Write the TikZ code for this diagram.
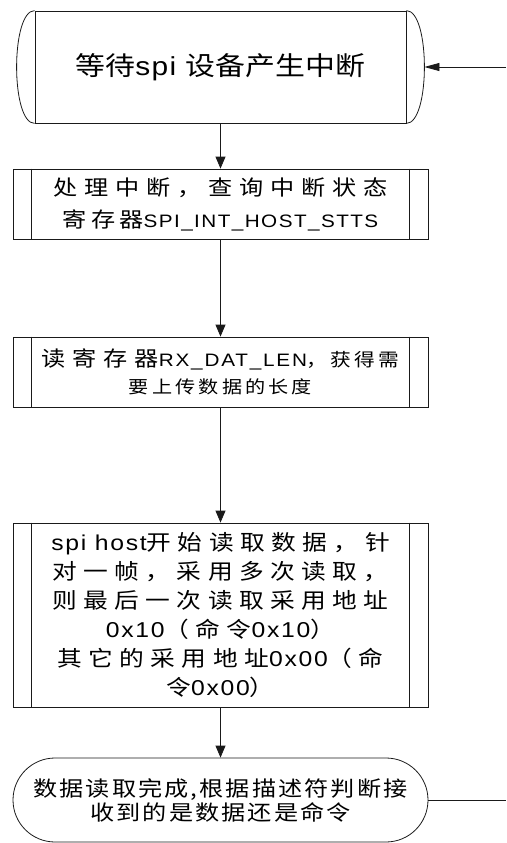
\documentclass[tikz,border=0pt]{standalone}
\usepackage{fontspec}
\setmainfont{Liberation Sans}
\usetikzlibrary{arrows.meta}
\newcommand\Cf[2]{{\fontspec[FakeStretch=1.15,LetterSpace=#1]{Noto Sans CJK SC}#2}}
\newcommand\Lf[2]{{\fontspec[FakeStretch=1.15,LetterSpace=#1]{Liberation Sans}#2}}
\definecolor{lc}{HTML}{1A1A1A}
\begin{document}
\begin{tikzpicture}[x=1pt,y=-1pt,
  ln/.style={draw=lc,line width=0.8pt},
  arr/.style={ln,-{Triangle[length=12pt,width=10pt]}},
  harr/.style={ln,-{Triangle[length=15pt,width=8pt]}},
  procbox/.style={ln,rectangle,minimum width=415pt,inner sep=0pt,align=center},
  termbox/.style={ln,rectangle,minimum width=371pt,minimum height=112pt,inner sep=0pt,align=center},
  ovalbox/.style={ln,rectangle,rounded corners=42pt,minimum width=415pt,minimum height=84pt,inner sep=0pt,align=center}
  ]
\useasboundingbox (0,0) rectangle (506,843);
% top terminator
\node[termbox,font=\fontsize{26pt}{30pt}\selectfont] (wait) at (220.5,67)
  {\Cf{0}{等待}\Lf{5}{spi }\Cf{0}{设备产生中断}};
\draw[ln] (wait.north west) .. controls ([xshift=-24pt]wait.north west) and ([xshift=-24pt]wait.south west) .. (wait.south west);
\draw[ln] (wait.north east) .. controls ([xshift=24pt]wait.north east) and ([xshift=24pt]wait.south east) .. (wait.south east);
\coordinate (waitR) at ([xshift=18pt]wait.east);
\coordinate (in1) at (506,67);
% process boxes
\node[procbox,minimum height=70pt,font=\fontsize{21pt}{32pt}\selectfont] (b2) at (220.5,204)
  {\Cf{33}{处理中断，查询中断状态}\\
   \Cf{20}{寄存器}{\fontsize{18pt}{32pt}\selectfont\Lf{8}{SPI\_INT\_HOST\_STTS}}};
\node[procbox,minimum height=70pt,font=\fontsize{21pt}{27pt}\selectfont] (b3) at (220.5,372)
  {\Cf{33}{读寄存器}{\fontsize{18pt}{27pt}\selectfont\Lf{10}{RX\_DAT\_LEN}\Cf{18}{，获得需}}\\
   {\fontsize{17.5pt}{27pt}\selectfont\Cf{18}{要上传数据的长度}}};
\node[procbox,minimum height=184pt,font=\fontsize{21.5pt}{29pt}\selectfont] (b4) at (220.5,615)
  {\Lf{8}{spi host}\Cf{30}{开始读取数据，针}\\
   \Cf{30}{对一帧，采用多次读取，}\\
   \Cf{30}{则最后一次读取采用地址}\\
   \Lf{8}{0x10}\Cf{30}{（命令}\Lf{8}{0x10}\Cf{30}{）}\\
   \Cf{30}{其它的采用地址}\Lf{8}{0x00}\Cf{30}{（命}\\
   \Cf{30}{令}\Lf{8}{0x00}\Cf{30}{）}};
\foreach \n in {b2,b3,b4}{
  \draw[ln] ([xshift=19pt]\n.north west) -- ([xshift=19pt]\n.south west);
  \draw[ln] ([xshift=-19pt]\n.north east) -- ([xshift=-19pt]\n.south east);
}
% bottom oval
\node[ovalbox,font=\fontsize{21pt}{24pt}\selectfont] (done) at (220.5,800)
  {\Cf{10}{数据读取完成,根据描述符判断接}\\
   \Cf{10}{收到的是数据还是命令}};
\coordinate (out1) at (506,800);
% connectors
\draw[harr] (in1) -- (waitR);
\draw[arr] (wait.south) -- (b2.north);
\draw[arr] (b2.south) -- (b3.north);
\draw[arr] (b3.south) -- (b4.north);
\draw[arr] (b4.south) -- (done.north);
\draw[ln] (done.east) -- (out1);
\end{tikzpicture}
\end{document}
